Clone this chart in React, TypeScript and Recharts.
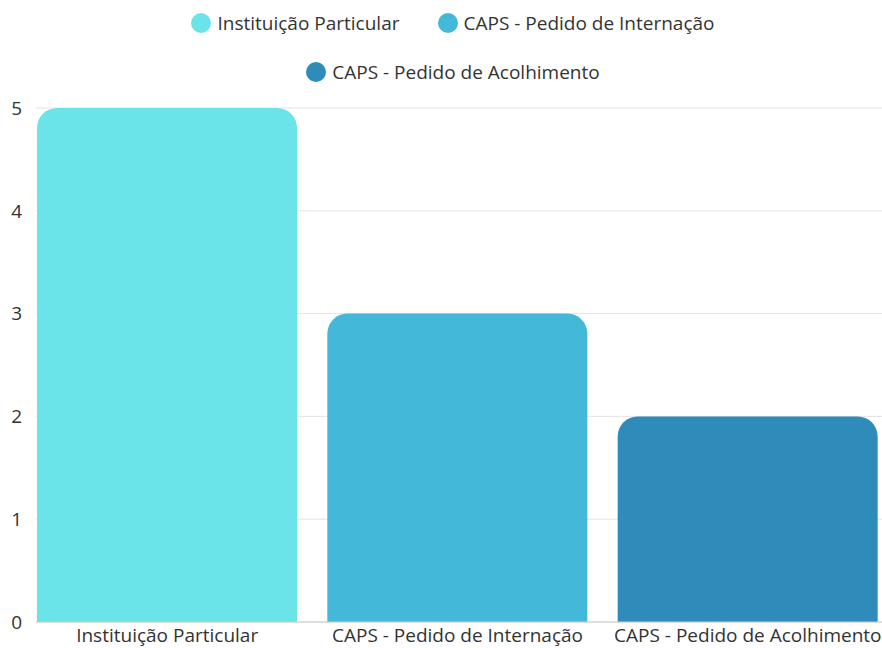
import React from "react";
import { BarChart, Bar, XAxis, YAxis, CartesianGrid, Legend, Cell } from "recharts";

const categories = ["Instituição Particular", "CAPS - Pedido de Internação", "CAPS - Pedido de Acolhimento"];
const values = [5, 3, 2];
const colors = ["#6ae4e8", "#44b8d8", "#2e8bba"];
const yTicks = [0, 1, 2, 3, 4, 5];

const data = categories.map((name, i) => ({ name, value: values[i] }));

const FONT = "'Open Sans', sans-serif";
const TEXT = "#333333";
const FS = 19;

const LegendContent = () => (
  <div
    style={{
      width: 620,
      marginLeft: 143,
      height: 100,
      paddingTop: 3,
      boxSizing: "border-box",
      display: "flex",
      flexWrap: "wrap",
      justifyContent: "center",
      alignContent: "flex-start",
      columnGap: 38,
      rowGap: 25,
      fontFamily: FONT,
      fontSize: FS,
      color: TEXT,
    }}
  >
    {categories.map((c, i) => (
      <div key={c} style={{ display: "flex", alignItems: "center", height: 24, lineHeight: "24px", whiteSpace: "nowrap" }}>
        <span
          style={{
            display: "inline-block",
            width: 20,
            height: 20,
            borderRadius: "50%",
            background: colors[i],
            marginRight: 6,
          }}
        />
        <span>{c}</span>
      </div>
    ))}
  </div>
);

export default function App() {
  return (
    <div style={{ position: "absolute", left: 0, top: 0, width: 882, height: 648, background: "#fff" }}>
      <BarChart
        width={882}
        height={648}
        data={data}
        margin={{ top: 8, right: 0, bottom: 0, left: 0 }}
        barCategoryGap={15}
      >
        <Legend verticalAlign="top" align="left" content={<LegendContent />} />
        <CartesianGrid vertical={false} stroke="#e3e3e3" />
        <XAxis
          dataKey="name"
          height={26}
          padding={{ left: -14, right: -11 }}
          tickLine={false}
          tickSize={0}
          tickMargin={7}
          axisLine={{ stroke: "#cccccc" }}
          tick={{ fill: TEXT, fontSize: FS, fontFamily: FONT }}
          interval={0}
        />
        <YAxis
          width={36}
          domain={[0, 5]}
          ticks={yTicks}
          axisLine={false}
          tickLine={false}
          tickSize={0}
          tickMargin={14}
          tick={{ fill: TEXT, fontSize: FS, fontFamily: FONT }}
        />
        <Bar dataKey="value" radius={[20, 20, 0, 0]} isAnimationActive={false}>
          {data.map((d, i) => (
            <Cell key={d.name} fill={colors[i]} />
          ))}
        </Bar>
      </BarChart>
    </div>
  );
}
